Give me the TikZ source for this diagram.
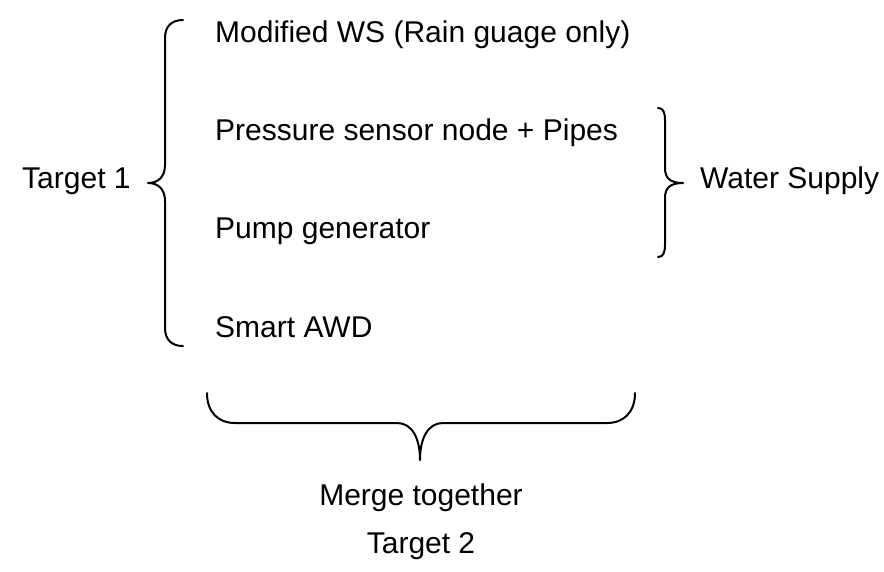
\documentclass[tikz,border=0pt]{standalone}
\usepackage{fontspec}
\setmainfont{Liberation Sans}
\begin{document}
\begin{tikzpicture}[x=1pt,y=-1pt,
  lbl/.style={inner sep=0pt,font=\fontsize{30}{36}\selectfont},
  bracepath/.style={line width=2pt,line cap=round,line join=round}]
\useasboundingbox (0,0) rectangle (884,571);

% list items
\node[lbl,anchor=base west] (ws)    at (215,42)  {Modified WS (Rain guage only)};
\node[lbl,anchor=base west] (press) at (215,140) {Pressure sensor node + Pipes};
\node[lbl,anchor=base west] (pump)  at (215,238) {Pump generator};
\node[lbl,anchor=base west] (awd)   at (215,337) {Smart AWD};

% group labels
\node[lbl,anchor=base west] (t1)    at (22,188)  {Target 1};
\node[lbl,anchor=base west] (water) at (700,188) {Water Supply};
\node[lbl,anchor=base] (merge) at (421,505) {Merge together};
\node[lbl,anchor=base] (t2)    at (421,553) {Target 2};

% left brace (Target 1)
\draw[bracepath] (183,20) .. controls (172,20) and (165,26) .. (165,38)
  -- (165,165) .. controls (165,177) and (158,183) .. (148,183)
  .. controls (158,183) and (165,189) .. (165,201)
  -- (165,328) .. controls (165,340) and (172,346) .. (183,346);

% right brace (Water Supply)
\draw[bracepath] (658,108) .. controls (663,108) and (665,112) .. (665,120)
  -- (665,168) .. controls (665,178) and (670,183) .. (683,183)
  .. controls (670,183) and (665,188) .. (665,198)
  -- (665,245) .. controls (665,253) and (663,257) .. (658,257);

% bottom brace (Merge together)
\draw[bracepath] (207,393) .. controls (207,412) and (218,423) .. (235,423)
  -- (397,423) .. controls (412,423) and (420,438) .. (420,460)
  .. controls (420,438) and (428,423) .. (443,423)
  -- (607,423) .. controls (624,423) and (635,412) .. (635,393);
\end{tikzpicture}
\end{document}
